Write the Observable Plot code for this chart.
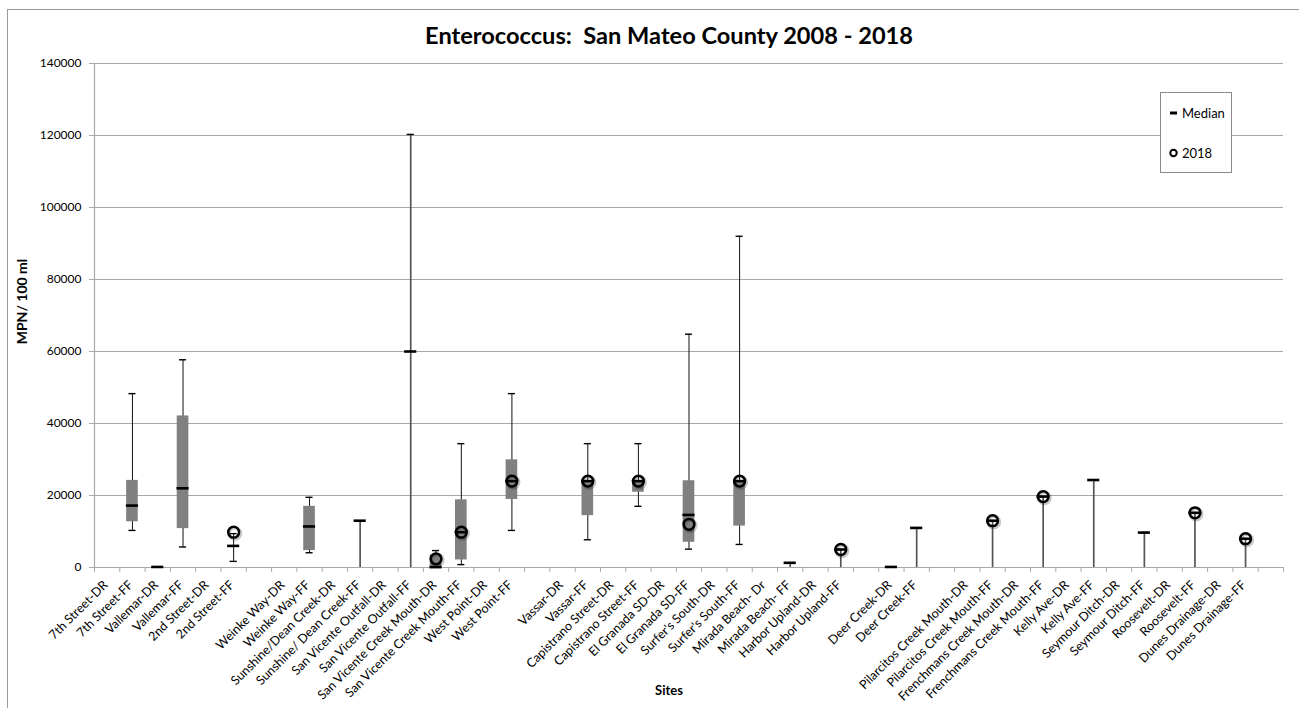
<!DOCTYPE html>
<html>
<head>
<meta charset="utf-8">
<script src="https://cdn.jsdelivr.net/npm/d3@7"></script>
<script src="https://cdn.jsdelivr.net/npm/@observablehq/plot@0.6"></script>
<style>
  html, body { margin: 0; padding: 0; background: #fff; overflow: hidden; }
  #wrap { position: relative; width: 1299px; height: 708px; font-family: Lato, "Open Sans", sans-serif; }
  #frame { position: absolute; left: 7px; top: 9px; width: 1400px; height: 800px;
           border-left: 1px solid #9a9a9a; border-top: 1px solid #9a9a9a; pointer-events: none; }
  #chart { position: absolute; left: 0; top: 0; }
  #legend { position: absolute; left: 1160px; top: 92px; width: 70px; height: 79px;
            border: 1px solid #8c8c8c; background: #fff; font-size: 13px; color: #000; }
  #legend .item { position: absolute; left: 8px; display: flex; align-items: center; height: 16px; }
  #legend svg { margin-right: 4px; }
</style>
</head>
<body>
<div id="wrap">
  <div id="chart"></div>
  <div id="frame"></div>
  <div id="legend">
    <div class="item" style="top:12px">
      <svg width="9" height="10"><rect x="1" y="3.5" width="7" height="3" fill="#000"></rect></svg><span>Median</span>
    </div>
    <div class="item" style="top:52px">
      <svg width="9" height="10"><circle cx="4.5" cy="5" r="3.2" fill="#fff" stroke="#000" stroke-width="2"></circle></svg><span>2018</span>
    </div>
  </div>
</div>
<script>
const N = null;
const sites = [
  "7th Street-DR","7th Street-FF","Vallemar-DR","Vallemar-FF","2nd Street-DR","2nd Street-FF","",
  "Weinke Way-DR","Weinke Way-FF","Sunshine/Dean Creek-DR","Sunshine/ Dean Creek-FF",
  "San Vicente Outfall-DR","San Vicente Outfall-FF","San Vicente Creek Mouth-DR","San Vicente Creek Mouth-FF",
  "West Point-DR","West Point-FF","",
  "Vassar-DR","Vassar-FF","Capistrano Street-DR","Capistrano Street-FF","El Granada SD-DR","El Granada SD-FF",
  "Surfer's South-DR","Surfer's South-FF","Mirada Beach- Dr","Mirada Beach- FF","Harbor Upland-DR","Harbor Upland-FF","",
  "Deer Creek-DR","Deer Creek-FF","",
  "Pilarcitos Creek Mouth-DR","Pilarcitos Creek Mouth-FF","Frenchmans Creek Mouth-DR","Frenchmans Creek Mouth-FF",
  "Kelly Ave-DR","Kelly Ave-FF","Seymour Ditch-DR","Seymour Ditch-FF","Roosevelt-DR","Roosevelt-FF",
  "Dunes Drainage-DR","Dunes Drainage-FF",""
];
//                0      1     2     3     4     5    6   7     8    9   10   11     12    13    14   15     16  17  18    19   20     21   22    23   24    25   26    27   28    29  30  31     32  33  34     35  36     37  38     39  40    41  42     43  44    45  46
const minVals = [ N, 10300,    N, 5700,    N, 1700,  N,  N, 4100,   N,    0,  N,      0,    0,  800,  N, 10300,  N,  N, 7700,  N, 17000,  N, 5100,  N, 6400,  N,    0,  N,    0,  N,  N,     0,  N,  N,     0,  N,     0,  N,     0,  N,    0,  N,     0,  N,    0,  N];
const q1Vals  = [ N, 12700,    N,10800,    N,    N,  N,  N, 4700,   N,    N,  N,      N,    0, 2100,  N, 18900,  N,  N,14400,  N, 20900,  N, 7000,  N,11500,  N,    N,  N,    N,  N,  N,     N,  N,  N,     N,  N,     N,  N,     N,  N,    N,  N,     N,  N,    N,  N];
const medianVals=[N, 17200,  150,22000,    N, 6000,  N,  N,11400,   N,13000,  N,  60000,  100, 9800,  N, 24000,  N,  N,24000,  N, 24000,  N,14600,  N,24000,  N, 1300,  N, 5000,  N,150, 11000,  N,  N, 13000,  N, 19700,  N, 24300,  N, 9700,  N, 15200,  N, 8000,  N];
const q3Vals  = [ N, 24200,    N,42100,    N,    N,  N,  N,17000,   N,    N,  N,      N, 3500,18800,  N, 29900,  N,  N,24000,  N, 24000,  N,24100,  N,24000,  N,    N,  N,    N,  N,  N,     N,  N,  N,     N,  N,     N,  N,     N,  N,    N,  N,     N,  N,    N,  N];
const maxVals = [ N, 48300,    N,57700,    N, 9400,  N,  N,19500,   N,13000,  N, 120300, 4700,34400,  N, 48300,  N,  N,34400,  N, 34400,  N,64800,  N,92000,  N, 1300,  N, 5000,  N,  N, 11000,  N,  N, 13000,  N, 19700,  N, 24300,  N, 9700,  N, 15200,  N, 8000,  N];
const y2018Vals=[ N,     N,    N,    N,    N, 9800,  N,  N,    N,   N,    N,  N,      N, 2400, 9800,  N, 24000,  N,  N,24000,  N, 24000,  N,12000,  N,24000,  N,    N,  N, 5000,  N,  N,     N,  N,  N, 13000,  N, 19700,  N,     N,  N,    N,  N, 15200,  N, 8000,  N];
const yTicks = [0, 20000, 40000, 60000, 80000, 100000, 120000, 140000];

const titleText = "Enterococcus:  San Mateo County 2008 - 2018";
const yLabel = "MPN/ 100 ml";
const xLabel = "Sites";

const rows = sites.map((site, i) => ({
  i, pos: i + 0.5, site,
  min: minVals[i], q1: q1Vals[i], median: medianVals[i], q3: q3Vals[i], max: maxVals[i], y2018: y2018Vals[i]
}));

const BOX = 0.23, CAP = 0.14, MED = 0.24;
const GRID = "#a8a8a8";
const whisk = rows.filter(d => d.max != null && d.min != null);
const plain = d => d.q1 == null && d.min === 0;
const pts = rows.filter(d => d.y2018 != null);

const chart = Plot.plot({
  width: 1299, height: 708,
  marginLeft: 94, marginRight: 16, marginTop: 63, marginBottom: 141,
  style: { fontFamily: "Lato, 'Open Sans', sans-serif", background: "transparent", color: "#000" },
  x: { domain: [0, sites.length] },
  y: { domain: [0, 140000] },
  marks: [
    Plot.gridY(yTicks.slice(1), { stroke: GRID, strokeOpacity: 1, strokeWidth: 1 }),
    Plot.ruleY([0], { stroke: GRID, strokeWidth: 1 }),
    Plot.ruleX([0], { stroke: GRID, strokeWidth: 1.2 }),
    Plot.axisY({ ticks: yTicks, tickSize: 5, tickPadding: 8, tickFormat: d3.format("d"),
                 stroke: GRID, fill: "#000", fontSize: 12, label: null }),
    Plot.axisX({ ticks: d3.range(sites.length + 1), tickSize: 5, tickFormat: () => "",
                 stroke: GRID, label: null }),
    // category labels, rotated, ending just under each category's centre
    Plot.text(rows.filter(d => d.site), { x: "pos", text: "site", frameAnchor: "bottom", rotate: -45,
                 textAnchor: "end", lineAnchor: "top", dx: -5, dy: 12, fontSize: 12.5, fill: "#000" }),
    // whiskers
    Plot.ruleX(whisk, { x: "pos", y1: "min", y2: "max",
                        stroke: d => plain(d) ? "#555" : "#111",
                        strokeWidth: d => plain(d) ? 1.7 : 1 }),
    // boxes
    Plot.rect(rows.filter(d => d.q1 != null), { x1: d => d.pos - BOX, x2: d => d.pos + BOX, y1: "q1", y2: "q3", fill: "#808080" }),
    // caps
    Plot.ruleY(whisk, { y: "max", x1: d => d.pos - CAP, x2: d => d.pos + CAP, stroke: "#000", strokeWidth: 1.4 }),
    Plot.ruleY(whisk.filter(d => d.min > 0), { y: "min", x1: d => d.pos - CAP, x2: d => d.pos + CAP, stroke: "#000", strokeWidth: 1.4 }),
    // medians
    Plot.ruleY(rows.filter(d => d.median != null), { y: "median", x1: d => d.pos - MED, x2: d => d.pos + MED, stroke: "#000", strokeWidth: 2.6 }),
    // 2018 values (soft shadow, then ring)
    Plot.dot(pts, { x: "pos", y: "y2018", r: 5.6, dx: 1.2, dy: 1.2, stroke: "#000", strokeOpacity: 0.22, strokeWidth: 3.6, fill: "none" }),
    Plot.dot(pts, { x: "pos", y: "y2018", r: 5.4, stroke: "#000", strokeWidth: 2.5, fill: "none" }),
    // texts
    Plot.text([titleText], { frameAnchor: "top", dx: -20, dy: -36, fontSize: 23.6, fontWeight: "bold", fill: "#000" }),
    Plot.text([yLabel], { frameAnchor: "left", dx: -72, dy: -14, rotate: -90, textAnchor: "middle", lineAnchor: "middle",
                          fontSize: 14, fontWeight: "bold", fill: "#000" }),
    Plot.text([xLabel], { frameAnchor: "bottom", dx: -20, dy: 127, fontSize: 13, fontWeight: "bold", fill: "#000" })
  ]
});
document.getElementById("chart").appendChild(chart);
</script>
</body>
</html>
